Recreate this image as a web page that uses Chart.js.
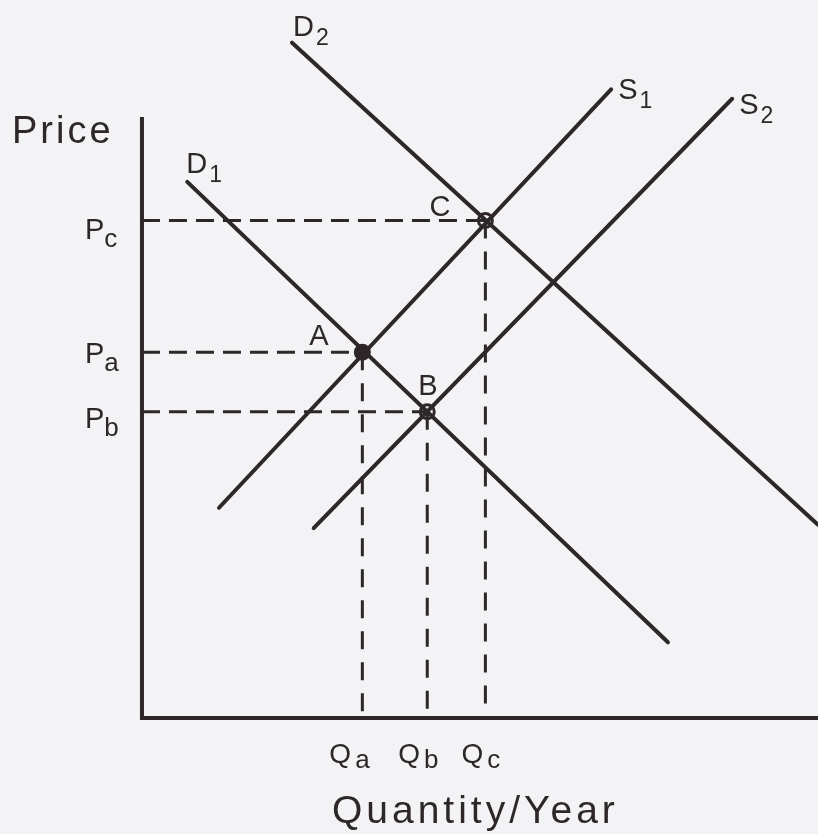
<!DOCTYPE html>
<html>
<head>
<meta charset="utf-8">
<script src="https://cdn.jsdelivr.net/npm/chart.js@4.4.1/dist/chart.umd.min.js"></script>
<style>
  html, body { margin: 0; padding: 0; background: #f3f3f5; overflow: hidden; }
  #wrap { width: 818px; height: 834px; position: relative; }
  canvas { display: block; }
</style>
</head>
<body>
<div id="wrap"><canvas id="chart"></canvas></div>
<script>
// quantity / price units, origin at the corner of the axes
const axisTop = 88.9;
const axisRight = 100;

const curveNames = ['D', 'D', 'S', 'S'];
const curveSubs = ['1', '2', '1', '2'];
const curveQ = [[6.7, 77.8], [22.2, 100], [11.4, 69.4], [25.4, 87.3]];
const curveP = [[79.3, 11.2], [99.9, 28.6], [31.1, 93.0], [28.1, 91.6]];

const pointNames = ['A', 'B', 'C'];
const pointSubs = ['a', 'b', 'c'];
const pointQ = [32.6, 42.2, 50.8];
const pointP = [54.1, 45.3, 73.6];

const ink = '#2d2729';
const paper = '#f3f3f5';
const font = (px) => px + 'px "Liberation Sans", Arial, sans-serif';

const xy = (qs, ps) => qs.map((q, i) => ({ x: q, y: ps[i] }));

const datasets = [];

// equilibrium points
datasets.push({
    label: 'points',
    data: xy(pointQ, pointP),
    showLine: false,
    pointRadius: 7,
    pointBorderWidth: 3,
    pointBorderColor: ink,
    pointBackgroundColor: [ink, 'rgba(0,0,0,0)', 'rgba(0,0,0,0)'],
    order: 0
});

// supply and demand curves
curveQ.forEach((qs, i) => {
    datasets.push({
        label: curveNames[i] + curveSubs[i],
        data: xy(qs, curveP[i]),
        showLine: true,
        borderColor: ink,
        borderWidth: 4,
        borderCapStyle: 'round',
        pointRadius: 0,
        order: 1
    });
});

// axes
datasets.push({
    label: 'axes',
    data: [{ x: 0, y: axisTop }, { x: 0, y: 0 }, { x: axisRight, y: 0 }],
    showLine: true,
    borderColor: ink,
    borderWidth: 4,
    borderJoinStyle: 'miter',
    pointRadius: 0,
    order: 2
});

// dashed guides to the axes
pointQ.forEach((q, i) => {
    datasets.push({
        label: 'h' + i,
        data: [{ x: 0, y: pointP[i] }, { x: q, y: pointP[i] }],
        showLine: true,
        borderColor: ink,
        borderWidth: 3,
        borderDash: [18, 9],
        pointRadius: 0,
        order: 3
    });
    datasets.push({
        label: 'v' + i,
        data: [{ x: q, y: pointP[i] }, { x: q, y: 0 }],
        showLine: true,
        borderColor: ink,
        borderWidth: 3,
        borderDash: [18, 13],
        pointRadius: 0,
        order: 3
    });
});

function drawLabel(ctx, x, y, main, sub, size, subSize, drop, gap) {
    ctx.font = font(size);
    ctx.fillText(main, x, y);
    if (sub) {
        const w = ctx.measureText(main).width;
        ctx.font = font(subSize);
        ctx.fillText(sub, x + w + gap, y + drop);
    }
}

const background = {
    id: 'background',
    beforeDraw(chart) {
        const ctx = chart.ctx;
        ctx.save();
        ctx.fillStyle = paper;
        ctx.fillRect(0, 0, chart.width, chart.height);
        ctx.restore();
    }
};

const labels = {
    id: 'labels',
    afterDatasetsDraw(chart) {
        const ctx = chart.ctx;
        const sx = chart.scales.x, sy = chart.scales.y;
        const x0 = sx.getPixelForValue(0), y0 = sy.getPixelForValue(0);
        ctx.save();
        ctx.fillStyle = ink;
        ctx.textBaseline = 'alphabetic';
        ctx.textAlign = 'left';

        // axis titles
        ctx.font = font(38);
        ctx.letterSpacing = '3px';
        ctx.fillText('Price', x0 - 130, sy.getPixelForValue(axisTop) + 26);
        ctx.font = font(39);
        ctx.letterSpacing = '4px';
        ctx.fillText('Quantity/Year', x0 + 190, y0 + 105);
        ctx.letterSpacing = '0px';

        // curve names at their upper ends
        const curveOff = [[-1, -9], [1, -7], [7, 10], [7, 15]];
        curveQ.forEach((qs, i) => {
            const top = curveP[i][0] > curveP[i][1] ? 0 : 1;
            const px = sx.getPixelForValue(qs[top]);
            const py = sy.getPixelForValue(curveP[i][top]);
            drawLabel(ctx, px + curveOff[i][0], py + curveOff[i][1],
                curveNames[i], curveSubs[i], 29, 23, 9, 2);
        });

        // point names
        const pointOff = [[-53, -7], [-9, -17], [-56, -4]];
        const priceDy = [11, 16, 19];
        const qtyDx = [-33, -29, -24];
        pointQ.forEach((q, i) => {
            const px = sx.getPixelForValue(q);
            const py = sy.getPixelForValue(pointP[i]);
            ctx.font = font(29);
            ctx.fillText(pointNames[i], px + pointOff[i][0], py + pointOff[i][1]);
            drawLabel(ctx, x0 - 57, py + priceDy[i], 'P', pointSubs[i], 29, 26, 8, 0);
            drawLabel(ctx, px + qtyDx[i], y0 + 45, 'Q', pointSubs[i], 28, 26, 5, 4);
        });
        ctx.restore();
    }
};

new Chart(document.getElementById('chart'), {
    type: 'scatter',
    data: { datasets: datasets },
    options: {
        responsive: true,
        maintainAspectRatio: false,
        animation: false,
        events: [],
        layout: { padding: 0, autoPadding: false },
        scales: {
            x: { type: 'linear', min: -21.0, max: 100, display: false },
            y: { type: 'linear', min: -17.16, max: 106.21, display: false }
        },
        plugins: {
            legend: { display: false },
            tooltip: { enabled: false }
        }
    },
    plugins: [background, labels]
});
</script>
</body>
</html>
